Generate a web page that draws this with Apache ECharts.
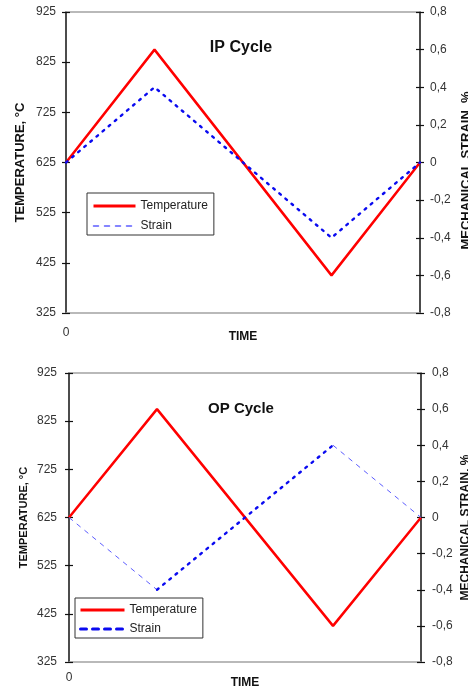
<!DOCTYPE html>
<html>
<head>
<meta charset="utf-8">
<script src="https://cdn.jsdelivr.net/npm/echarts@6/dist/echarts.min.js"></script>
<style>
  html, body { margin: 0; padding: 0; background: #fff; overflow: hidden; }
  #chart { width: 468px; height: 689px; }
</style>
</head>
<body>
<div id="chart"></div>
<script>
// ---- data ----
var time = [0, 1, 3, 4];
var ipTemperature = [625, 850, 400, 625];
var ipStrain = [0, 0.4, -0.4, 0];
var opTemperature = [625, 850, 400, 625];
var opStrain = [0, -0.4, 0.4, 0];
var tempTicks = [325, 425, 525, 625, 725, 825, 925];
var strainTicks = [-0.8, -0.6, -0.4, -0.2, 0, 0.2, 0.4, 0.6, 0.8];

function pairs(xs, ys, from, to) {
  var out = [];
  for (var i = from; i <= to; i++) out.push([xs[i], ys[i]]);
  return out;
}

var FONT = '"Liberation Sans", Arial, sans-serif';
var GRAY = '#a3a3a3';
var BLACK = '#111';

function strainFmt(v) {
  var s = (Math.round(v * 10) / 10).toString();
  return s.replace('.', ',');
}

function xAxes(gridIndex, labelMargin, nameGap) {
  return [
    {
      type: 'value', gridIndex: gridIndex, position: 'bottom', min: 0, max: 4, interval: 4,
      axisLine: { show: true, onZero: false, lineStyle: { color: GRAY, width: 1.5 } },
      axisTick: { show: false }, splitLine: { show: false },
      axisLabel: { show: true, margin: labelMargin, fontFamily: FONT, fontSize: 12, color: '#333',
        formatter: function (v) { return v === 0 ? '0' : ''; } },
      name: 'TIME', nameLocation: 'middle', nameGap: nameGap, nameMoveOverlap: false,
      nameTextStyle: { fontFamily: FONT, fontSize: 12, fontWeight: 'bold', color: BLACK }
    },
    {
      type: 'value', gridIndex: gridIndex, position: 'top', min: 0, max: 4,
      axisLine: { show: true, onZero: false, lineStyle: { color: GRAY, width: 1.5 } },
      axisTick: { show: false }, splitLine: { show: false }, axisLabel: { show: false }
    }
  ];
}

function yAxes(gridIndex, leftMargin, rightMargin, leftGap, rightGap, leftSize, rightSize, rightPad) {
  var tickLen = 4;
  return [
    {
      type: 'value', gridIndex: gridIndex, position: 'left', min: 325, max: 925, interval: 100,
      axisLine: { show: true, onZero: false, lineStyle: { color: BLACK, width: 1.5 } },
      axisTick: { show: true, inside: false, length: tickLen, lineStyle: { color: BLACK, width: 1.2 } },
      splitLine: { show: false },
      axisLabel: { margin: leftMargin, fontFamily: FONT, fontSize: 12, color: '#333' },
      name: 'TEMPERATURE, °C', nameLocation: 'middle', nameRotate: 90, nameGap: leftGap,
      nameMoveOverlap: false,
      nameTextStyle: { fontFamily: FONT, fontSize: leftSize, fontWeight: 'bold', color: BLACK }
    },
    {
      type: 'value', gridIndex: gridIndex, position: 'right', min: -0.8, max: 0.8, interval: 0.2,
      axisLine: { show: true, onZero: false, lineStyle: { color: BLACK, width: 1.5 } },
      axisTick: { show: true, inside: false, length: tickLen, lineStyle: { color: BLACK, width: 1.2 } },
      splitLine: { show: false },
      axisLabel: { margin: rightMargin, fontFamily: FONT, fontSize: 12, color: '#333', formatter: strainFmt },
      name: 'MECHANICAL STRAIN, %', nameLocation: 'middle', nameRotate: 90, nameGap: rightGap,
      nameMoveOverlap: false,
      nameTextStyle: { fontFamily: FONT, fontSize: rightSize, fontWeight: 'bold', color: BLACK,
        padding: [0, rightPad, 0, 0] }
    },
    {
      type: 'value', gridIndex: gridIndex, position: 'left', min: 325, max: 925, interval: 100,
      axisLine: { show: false, onZero: false },
      axisTick: { show: true, inside: true, length: tickLen, lineStyle: { color: BLACK, width: 1.2 } },
      splitLine: { show: false }, axisLabel: { show: false }
    },
    {
      type: 'value', gridIndex: gridIndex, position: 'right', min: -0.8, max: 0.8, interval: 0.2,
      axisLine: { show: false, onZero: false },
      axisTick: { show: true, inside: true, length: tickLen, lineStyle: { color: BLACK, width: 1.2 } },
      splitLine: { show: false }, axisLabel: { show: false }
    }
  ];
}

var RED = '#ff0000';
var BLUE = '#0a0af0';
var LIGHTBLUE = '#5c5cff';

var option = {
  animation: false,
  backgroundColor: '#fff',
  title: [
    { text: 'IP Cycle', left: 236, top: 35, textAlign: 'center',
      textStyle: { fontFamily: FONT, fontSize: 16, fontWeight: 'bold', color: BLACK } },
    { text: 'OP Cycle', left: 236, top: 396, textAlign: 'center',
      textStyle: { fontFamily: FONT, fontSize: 15, fontWeight: 'bold', color: BLACK } }
  ],
  grid: [
    { left: 66, top: 12, width: 354, height: 301, outerBoundsMode: 'none', containLabel: false },
    { left: 69, top: 373, width: 352, height: 289, outerBoundsMode: 'none', containLabel: false }
  ],
  legend: [
    {
      orient: 'vertical', left: 87, top: 193, padding: [7, 6, 3, 5],
      borderColor: '#333', borderWidth: 1, itemWidth: 42, itemHeight: 14, itemGap: 8,
      textStyle: { fontFamily: FONT, fontSize: 12, color: '#222' },
      data: [
        { name: 'Temperature', itemStyle: { opacity: 0 }, lineStyle: { color: RED, width: 3, type: 'solid' } },
        { name: 'Strain', itemStyle: { opacity: 0 }, lineStyle: { color: LIGHTBLUE, width: 1.5, type: [5, 6] } }
      ]
    },
    {
      orient: 'vertical', left: 75, top: 598, padding: [6, 6, 3, 4],
      borderColor: '#333', borderWidth: 1, itemWidth: 44, itemHeight: 12, itemGap: 7,
      textStyle: { fontFamily: FONT, fontSize: 12, color: '#222' },
      data: [
        { name: 'Temperature', itemStyle: { opacity: 0 }, lineStyle: { color: RED, width: 3, type: 'solid' } },
        { name: 'Strain', itemStyle: { opacity: 0 }, lineStyle: { color: BLUE, width: 3, type: [6, 6] } }
      ]
    }
  ],
  xAxis: [].concat(xAxes(0, 14, 18), xAxes(1, 10, 15)),
  yAxis: [].concat(yAxes(0, 10, 10, 39, 40, 13, 13, 16), yAxes(1, 12, 11, 40, 39, 11, 12, 20)),
  series: [
    { name: 'Temperature', type: 'line', xAxisIndex: 0, yAxisIndex: 0, symbol: 'none',
      lineStyle: { color: RED, width: 2.5 }, itemStyle: { color: RED },
      data: pairs(time, ipTemperature, 0, 3) },
    { name: 'Strain', type: 'line', xAxisIndex: 0, yAxisIndex: 1, symbol: 'none',
      lineStyle: { color: BLUE, width: 2.4, type: [2, 6], cap: 'round' }, itemStyle: { color: BLUE },
      data: pairs(time, ipStrain, 0, 3) },
    { name: 'Temperature', type: 'line', xAxisIndex: 2, yAxisIndex: 4, symbol: 'none',
      lineStyle: { color: RED, width: 2.5 }, itemStyle: { color: RED },
      data: pairs(time, opTemperature, 0, 3) },
    { name: 'Strain', type: 'line', xAxisIndex: 2, yAxisIndex: 5, symbol: 'none',
      lineStyle: { color: LIGHTBLUE, width: 1, type: [5, 5] }, itemStyle: { color: BLUE },
      data: pairs(time, opStrain, 0, 1) },
    { name: 'Strain', type: 'line', xAxisIndex: 2, yAxisIndex: 5, symbol: 'none',
      lineStyle: { color: BLUE, width: 2.4, type: [2, 6], cap: 'round' }, itemStyle: { color: BLUE },
      data: pairs(time, opStrain, 1, 2) },
    { name: 'Strain', type: 'line', xAxisIndex: 2, yAxisIndex: 5, symbol: 'none',
      lineStyle: { color: LIGHTBLUE, width: 1, type: [5, 5] }, itemStyle: { color: BLUE },
      data: pairs(time, opStrain, 2, 3) }
  ]
};

var chart = echarts.init(document.getElementById('chart'), null, { renderer: 'canvas' });
chart.setOption(option);
</script>
</body>
</html>
